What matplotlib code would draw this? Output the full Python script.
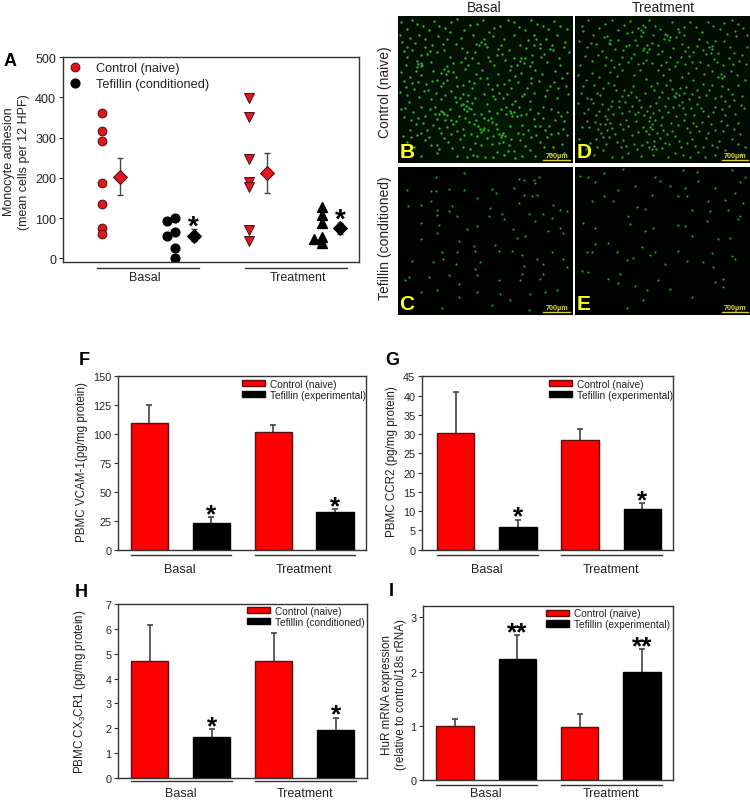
import matplotlib
matplotlib.use("Agg")
import numpy as np
import matplotlib.pyplot as plt
from matplotlib.patches import Patch
from matplotlib.lines import Line2D

plt.rcParams['font.family'] = ['Liberation Sans', 'DejaVu Sans']
plt.rcParams['mathtext.default'] = 'regular'

W, H = 750, 803
DARK = '#333333'
RED = '#ff0000'
PT_RED = '#e8141c'

# ---- panel A values ----
ctrl_basal = [360, 317, 292, 187, 136, 75, 60]
tef_basal = [100, 94, 65, 55, 27, 1]
tef_basal_off = [0, -1, 0, -1, 0, 0]
ctrl_treat = [398, 350, 247, 190, 178, 71, 42]
tef_treat = [128, 107, 87, 52, 47, 38]
tef_treat_off = [0, 0, 0, 0, -1, 0]
a_means = [203, 55, 212, 75]
a_low = [158, 42, 163, 60]
a_high = [248, 72, 262, 88]

# ---- bar panels ----
groups = ['Basal', 'Treatment']
f_vals = [109.5, 23.5, 102, 33]
f_tops = [125.5, 28, 108, 35.5]
g_vals = [30.2, 6, 28.5, 10.5]
g_tops = [40.8, 7.8, 31.2, 12]
h_vals = [4.7, 1.63, 4.72, 1.95]
h_tops = [6.17, 1.98, 5.83, 2.43]
i_vals = [1.0, 2.23, 0.98, 2.0]
i_tops = [1.13, 2.67, 1.21, 2.42]

# ---- micrographs: green level on a coarse grid, plus visible specks ----
haze_b = [[.14, .16, .14, .16, .14, .12, .14],
          [.16, .16, .16, .18, .18, .14, .12],
          [.14, .18, .20, .18, .16, .14, .10],
          [.16, .18, .20, .22, .18, .14, .12],
          [.14, .18, .20, .25, .25, .16, .12],
          [.10, .14, .18, .20, .22, .16, .10]]
haze_d = [[.10, .12, .14, .14, .14, .12, .10],
          [.12, .14, .16, .14, .14, .14, .12],
          [.10, .12, .14, .14, .14, .14, .14],
          [.10, .14, .14, .16, .14, .14, .12],
          [.10, .14, .16, .16, .14, .12, .10],
          [.08, .10, .14, .14, .12, .10, .08]]
haze_c = [[.03] * 7] * 6
haze_e = [[.02] * 7] * 6

specks_b = [(30, 40), (60, 25), (95, 45), (125, 30), (160, 20), (200, 45), (240, 25), (275, 50), (310, 30), (350, 20),
            (385, 45), (420, 25), (455, 40), (490, 30), (15, 80), (45, 105), (70, 120), (75, 150), (105, 90), (140, 105),
            (175, 85), (210, 110), (245, 90), (265, 85), (300, 120), (335, 105), (370, 90), (405, 120), (430, 85), (470, 105),
            (505, 80), (25, 150), (55, 170), (100, 140), (130, 175), (150, 155), (190, 140), (225, 130), (255, 165), (290, 150),
            (325, 135), (360, 150), (385, 130), (415, 165), (450, 140), (490, 150), (510, 175), (20, 200), (50, 225), (85, 210),
            (115, 235), (150, 195), (180, 215), (215, 200), (250, 190), (285, 225), (320, 210), (355, 185), (390, 220), (425, 200),
            (460, 215), (495, 190), (35, 265), (70, 280), (100, 255), (130, 290), (140, 300), (175, 265), (200, 285), (205, 275),
            (235, 250), (270, 270), (295, 255), (330, 240), (365, 280), (400, 260), (440, 280), (480, 250), (510, 295), (20, 310),
            (55, 330), (90, 350), (120, 315), (150, 340), (185, 305), (215, 325), (250, 345), (258, 348), (285, 325), (315, 365),
            (325, 368), (345, 305), (375, 335), (410, 315), (445, 350), (475, 320), (500, 345), (30, 385), (100, 395), (140, 375),
            (165, 405), (200, 365), (235, 390), (270, 375), (300, 415), (335, 395), (370, 380), (400, 410), (430, 385), (470, 400),
            (240, 430), (320, 425), (180, 430), (120, 420), (60, 365), (230, 300), (340, 290), (210, 260), (130, 215), (70, 145),
            (12, 18), (44, 12), (78, 32), (110, 15), (142, 38), (178, 10), (218, 28), (258, 12), (292, 38), (332, 14),
            (366, 36), (402, 12), (438, 32), (472, 16), (510, 42), (8, 58), (38, 68), (66, 58), (84, 72), (122, 62),
            (158, 50), (192, 68), (228, 58), (262, 70), (288, 62), (322, 72), (352, 58), (392, 74), (412, 60), (448, 72),
            (482, 60), (516, 110), (30, 125), (58, 138), (88, 118), (120, 112), (158, 125), (194, 100), (234, 112), (272, 125),
            (316, 118), (350, 128), (388, 100), (442, 118), (486, 128), (12, 172), (38, 188), (72, 182), (108, 168), (118, 196),
            (168, 172), (204, 162), (238, 178), (270, 190), (304, 178), (338, 165), (372, 175), (402, 190), (436, 178), (474, 170),
            (8, 232), (30, 242), (66, 248), (92, 228), (130, 255), (160, 230), (196, 240), (226, 222), (262, 238), (306, 236),
            (342, 222), (374, 246), (412, 235), (446, 246), (484, 222), (515, 240), (10, 285), (48, 295), (84, 305), (112, 280),
            (158, 285), (190, 272), (222, 285), (252, 300), (276, 292), (312, 285), (354, 262), (386, 300), (424, 298), (462, 285),
            (492, 305), (38, 350), (70, 358), (108, 335), (132, 358), (168, 330), (198, 345), (232, 330), (272, 350), (300, 345),
            (340, 338), (362, 358), (392, 350), (428, 338), (462, 362), (512, 365), (15, 415), (50, 402), (82, 380), (118, 395),
            (152, 385), (188, 378), (218, 408), (252, 395), (285, 392), (318, 385), (352, 412), (385, 398), (416, 365), (452, 372),
            (495, 392), (70, 430), (210, 432), (265, 432), (355, 435), (415, 430),
            (63, 147), (71, 155), (58, 158), (136, 293), (148, 304), (126, 301), (198, 271), (214, 281), (209, 291), (262, 342),
            (251, 356), (243, 338), (306, 361), (319, 359), (311, 372), (341, 298), (352, 294), (361, 307), (274, 318), (283, 312),
            (296, 331), (236, 86), (271, 96), (252, 81), (139, 163), (152, 168), (147, 178), (212, 243), (226, 266), (188, 252),
            (172, 248), (289, 245), (318, 252), (344, 270), (327, 279), (369, 137), (381, 146), (372, 128), (417, 71), (428, 99),
            (411, 88), (28, 97), (19, 109), (52, 82), (97, 108), (83, 95), (136, 87), (149, 71), (168, 143), (203, 128),
            (211, 151), (244, 144), (278, 137), (303, 101), (311, 88), (342, 153), (398, 153), (406, 141), (432, 126), (459, 102),
            (467, 88), (503, 97), (27, 218), (43, 207), (62, 203), (79, 231), (103, 198), (138, 206), (143, 243), (176, 188),
            (197, 211), (232, 205), (273, 208), (299, 213), (337, 196), (363, 203), (381, 238), (403, 207), (451, 227), (473, 203),
            (507, 215), (24, 281), (41, 318), (63, 311), (77, 327), (98, 286), (114, 299), (161, 318), (177, 321), (203, 312),
            (238, 318), (262, 312), (301, 298), (327, 301), (371, 302), (399, 286), (413, 337), (437, 314), (458, 337), (484, 293),
            (503, 322), (18, 366), (42, 372), (94, 371), (126, 343), (142, 318), (161, 362), (179, 351), (222, 361), (241, 367),
            (288, 367), (307, 389), (343, 376), (377, 362), (403, 372), (441, 402), (483, 357), (126, 408), (197, 402), (228, 425),
            (287, 431), (333, 413), (376, 428), (462, 421), (502, 418)]
specks_d = [(20, 30), (55, 60), (90, 25), (130, 45), (165, 15), (205, 50), (240, 30), (270, 55), (310, 40), (345, 20),
            (380, 50), (415, 30), (455, 55), (490, 25), (515, 60), (35, 95), (70, 120), (105, 85), (145, 105), (180, 75),
            (215, 110), (250, 90), (285, 125), (320, 85), (355, 110), (395, 80), (430, 115), (465, 95), (500, 120), (15, 150),
            (50, 175), (90, 150), (125, 185), (160, 140), (195, 165), (230, 145), (265, 180), (300, 155), (340, 175), (375, 140),
            (410, 170), (445, 150), (485, 180), (25, 215), (65, 235), (100, 205), (140, 245), (175, 215), (210, 235), (245, 205),
            (280, 250), (315, 220), (350, 240), (385, 210), (420, 250), (460, 225), (500, 245), (40, 285), (80, 270), (115, 300),
            (150, 265), (190, 295), (225, 275), (260, 310), (295, 280), (330, 300), (365, 270), (400, 305), (440, 285), (480, 300),
            (20, 340), (60, 325), (95, 350), (135, 330), (170, 365), (205, 340), (240, 320), (230, 345), (275, 360), (310, 335),
            (345, 355), (380, 325), (420, 350), (455, 335), (495, 360), (45, 390), (85, 410), (125, 385), (160, 420), (200, 395),
            (145, 380), (215, 385), (260, 405), (300, 420), (335, 390), (370, 415), (410, 395), (450, 410), (180, 300), (130, 75),
            (205, 105), (235, 60), (295, 100), (110, 260), (225, 310), (255, 375), (320, 265), (355, 195), (440, 215), (75, 330),
            (38, 14), (72, 38), (110, 12), (148, 28), (188, 38), (222, 12), (255, 40), (292, 18), (328, 60), (362, 36),
            (398, 18), (436, 42), (472, 14), (505, 38), (12, 78), (48, 82), (88, 65), (120, 102), (162, 88), (198, 62),
            (232, 82), (268, 72), (302, 65), (338, 95), (372, 72), (412, 92), (448, 76), (482, 62), (515, 96), (30, 122),
            (52, 138), (82, 108), (108, 135), (142, 125), (178, 118), (212, 135), (248, 118), (272, 142), (318, 125), (352, 142),
            (392, 118), (425, 142), (462, 128), (512, 148), (8, 182), (34, 195), (72, 188), (106, 172), (142, 165), (178, 182),
            (212, 192), (248, 165), (286, 195), (322, 188), (388, 178), (428, 188), (468, 168), (510, 195), (48, 255), (84, 222),
            (122, 228), (158, 242), (192, 258), (228, 215), (262, 232), (298, 245), (332, 218), (372, 248), (402, 228), (438, 245),
            (478, 258), (10, 268), (62, 302), (98, 285), (132, 278), (170, 275), (208, 302), (242, 268), (278, 295), (312, 272),
            (348, 282), (384, 292), (420, 278), (462, 275), (508, 282), (35, 322), (78, 358), (112, 342), (152, 318), (188, 355),
            (222, 362), (258, 335), (292, 352), (328, 318), (362, 338), (398, 358), (438, 322), (478, 345), (12, 378), (62, 378),
            (102, 372), (178, 392), (238, 382), (282, 392), (318, 402), (352, 378), (392, 375), (432, 382), (470, 378), (510, 402),
            (25, 428), (110, 432), (235, 425), (345, 432), (420, 425),
            (97, 63), (106, 74), (101, 82), (203, 27), (211, 36), (198, 43), (207, 98), (216, 91), (221, 103), (277, 58),
            (286, 66), (281, 73), (403, 97), (411, 103), (408, 113), (97, 316), (104, 327), (91, 331), (223, 322), (231, 331),
            (226, 339), (237, 397), (243, 406), (232, 408), (303, 237), (311, 243), (299, 248), (437, 178), (447, 184), (441, 191),
            (157, 53), (172, 49), (312, 51), (327, 33), (448, 22), (479, 47), (24, 47), (64, 85), (153, 92), (187, 91),
            (261, 107), (329, 107), (343, 123), (367, 93), (383, 106), (421, 78), (476, 113), (92, 127), (117, 158), (133, 148),
            (167, 129), (189, 148), (203, 143), (257, 151), (283, 163), (307, 141), (329, 147), (363, 161), (398, 152), (417, 131),
            (473, 147), (493, 138), (19, 237), (37, 252), (58, 213), (76, 243), (117, 213), (132, 262), (147, 227), (169, 233),
            (183, 247), (237, 228), (253, 248), (272, 211), (291, 223), (328, 237), (341, 253), (367, 226), (393, 242), (411, 213),
            (449, 261), (471, 238), (489, 211), (27, 297), (53, 268), (71, 291), (89, 307), (107, 277), (141, 298), (163, 291),
            (199, 278), (217, 291), (233, 298), (251, 287), (271, 277), (303, 307), (323, 283), (357, 302), (377, 283), (413, 293),
            (451, 303), (497, 273), (43, 341), (69, 347), (83, 371), (121, 362), (143, 347), (159, 338), (182, 322), (213, 353),
            (247, 358), (263, 348), (287, 327), (301, 369), (337, 342), (353, 328), (371, 352), (407, 332), (443, 352), (489, 327),
            (33, 407), (67, 401), (93, 392), (137, 402), (152, 397), (187, 408), (223, 402), (269, 389), (311, 383), (361, 397),
            (383, 402), (427, 401), (489, 391), (57, 427), (141, 431), (197, 428), (279, 431), (323, 427), (391, 431), (497, 427)]
specks_c = [(117, 30), (200, 20), (30, 72), (100, 75), (115, 75), (155, 68), (200, 72), (285, 68), (297, 80), (380, 40),
            (365, 38), (410, 40), (425, 30), (415, 50), (350, 65), (380, 85), (405, 88), (420, 85), (32, 120), (100, 105),
            (165, 118), (240, 95), (120, 130), (120, 148), (180, 150), (155, 135), (280, 125), (275, 150), (315, 145), (320, 160),
            (395, 145), (365, 110), (440, 145), (465, 155), (470, 115), (490, 130), (510, 135), (490, 185), (500, 200), (125, 178),
            (118, 200), (70, 170), (348, 188), (385, 210), (360, 215), (455, 195), (415, 165), (240, 180), (210, 190), (185, 225),
            (178, 258), (135, 260), (137, 280), (230, 240), (235, 255), (295, 237), (305, 255), (70, 220), (45, 285), (108, 290),
            (175, 295), (250, 290), (345, 255), (375, 268), (420, 280), (440, 295), (380, 300), (465, 260), (500, 280), (155, 330),
            (35, 335), (22, 345), (95, 335), (185, 355), (235, 310), (240, 330), (305, 345), (375, 325), (370, 345), (430, 340),
            (440, 325), (70, 380), (120, 375), (135, 430), (185, 395), (240, 380), (310, 385), (340, 405), (400, 385), (445, 380),
            (285, 420), (395, 435), (480, 375), (510, 305), (70, 115)]
specks_e = [(88, 20), (15, 28), (40, 30), (145, 8), (240, 30), (255, 42), (325, 10), (365, 15), (368, 42), (420, 65),
            (470, 10), (495, 45), (510, 30), (88, 88), (115, 105), (130, 72), (180, 60), (60, 45), (230, 85), (285, 60),
            (310, 90), (335, 90), (330, 65), (400, 105), (450, 100), (480, 80), (505, 110), (185, 122), (210, 128), (160, 150),
            (50, 105), (350, 130), (405, 135), (460, 130), (490, 160), (25, 170), (60, 185), (165, 175), (235, 185), (210, 195),
            (310, 178), (330, 180), (395, 165), (495, 150), (430, 220), (465, 215), (350, 210), (100, 233), (35, 258), (50, 258),
            (125, 260), (200, 245), (240, 258), (308, 257), (410, 262), (155, 282), (175, 278), (225, 268), (270, 295), (335, 285),
            (385, 290), (20, 315), (135, 325), (40, 320), (128, 352), (215, 375), (285, 370), (420, 350), (445, 365), (100, 340),
            (180, 362), (415, 305), (480, 280), (350, 395), (205, 405), (155, 430), (445, 340), (250, 345), (60, 235), (470, 270)]

fig = plt.figure(figsize=(W / 100, H / 100), dpi=100, facecolor='white')


def make_axes(left, top, right, bottom):
    return fig.add_axes([left / W, 1 - bottom / H, (right - left) / W, (bottom - top) / H])


def px_text(x, y, s, **kw):
    fig.text(x / W, 1 - y / H, s, ha=kw.pop('ha', 'center'), va=kw.pop('va', 'center'), **kw)


def style_axes(ax, tick_size):
    for sp in ax.spines.values():
        sp.set_color(DARK)
        sp.set_linewidth(1.0)
    ax.tick_params(axis='y', labelsize=tick_size, length=3, width=0.8, color=DARK, pad=2, labelcolor='#222222')
    ax.set_xticks([])


def group_rules(ax, spans, centers, rule_y, text_y, size=9):
    # lines and group names under the x axis; y is given in figure pixels
    for (x0, x1), name, cx in zip(spans, groups, centers):
        bb = ax.get_position()
        frac = (1 - rule_y / H - bb.y0) / bb.height
        ax.plot([x0, x1], [frac, frac], color=DARK, lw=1.0, clip_on=False,
                transform=ax.get_xaxis_transform())
        xpx = ax.transData.transform((cx, 0))[0]
        px_text(xpx, text_y, name, fontsize=size, color='#222222')


def bar_panel(box, xleft, vals, tops, ylim, yticks, legend_labels, legend_x, stars, star_size=19):
    ax = make_axes(*box)
    xpos = [1, 2, 3, 4]
    colors = [RED, 'black', RED, 'black']
    edges = ['#5a1010', 'black', '#5a1010', 'black']
    for x, v, t, c, e in zip(xpos, vals, tops, colors, edges):
        ax.vlines(x, v, t, color='#444444', lw=1.2, zorder=1)
        ax.plot(x, t, '_', color='#444444', ms=5, mew=1.2, zorder=1)
        ax.bar(x, v, width=0.6, color=c, edgecolor=e, linewidth=1.0, zorder=2)
    ax.set_xlim(xleft, 4.5)
    ax.set_ylim(*ylim)
    ax.set_yticks(yticks)
    style_axes(ax, 7.8)
    handles = [Patch(facecolor=RED, edgecolor='#5a1010', lw=1), Patch(facecolor='black', edgecolor='black', lw=1)]
    ax.legend(handles, legend_labels, loc='upper left', bbox_to_anchor=legend_x, frameon=False, fontsize=7.3,
              handlelength=2.25, handleheight=0.55, handletextpad=0.5, labelspacing=0.08,
              borderaxespad=0, borderpad=0, labelcolor='#222222')
    for x, t in zip(xpos, tops):
        if t in stars:
            # the asterisk glyph sits high in its line, hence baseline alignment
            ax.annotate(stars[t], (x, t), xytext=(0, -3), textcoords='offset points', ha='center', va='baseline',
                        fontsize=star_size, color='black', fontweight='bold')
    return ax


# ---- panel A ----
ax = make_axes(63, 58, 358.7, 263)
ax.plot([1] * len(ctrl_basal), ctrl_basal, 'o', ms=6.3, mfc=PT_RED, mec='#401010', mew=0.7)
ax.plot([2 + d * 0.11 for d in tef_basal_off], tef_basal, 'o', ms=6.3, mfc='black', mec='black')
ax.plot([3] * len(ctrl_treat), ctrl_treat, 'v', ms=6.5, mfc=PT_RED, mec='#401010', mew=0.7)
ax.plot([4 + d * 0.11 for d in tef_treat_off], tef_treat, '^', ms=6.5, mfc='black', mec='black')
for x, m, lo, hi, c in zip([1.25, 2.25, 3.25, 4.25], a_means, a_low, a_high, [PT_RED, 'black', PT_RED, 'black']):
    ax.errorbar(x, m, yerr=[[m - lo], [hi - m]], color='#444444', capsize=2.2, elinewidth=1.0, capthick=1.0, zorder=2)
    ax.plot(x, m, 'D', ms=7, mfc=c, mec='#301010' if c != 'black' else 'black', mew=0.7, zorder=3)
ax.set_xlim(0.47, 4.5)
ax.set_ylim(-9, 500)
ax.set_yticks([0, 100, 200, 300, 400, 500])
style_axes(ax, 9)
a_handles = [Line2D([], [], ls='', marker='o', ms=6.3, mfc=PT_RED, mec='#401010', mew=0.7),
             Line2D([], [], ls='', marker='o', ms=6.3, mfc='black', mec='black')]
ax.legend(a_handles, ['Control (naive)', 'Tefillin (conditioned)'], loc='upper left', bbox_to_anchor=(0.009, 0.975),
          frameon=False, fontsize=9.2, handletextpad=0.9, labelspacing=0.33, borderaxespad=0, borderpad=0,
          handlelength=1.5, labelcolor='#222222')
ax.annotate('*', (2.25, 72), xytext=(0, -3), textcoords='offset points', ha='center', fontsize=20, fontweight='bold')
ax.annotate('*', (4.25, 88), xytext=(0, -3), textcoords='offset points', ha='center', fontsize=20, fontweight='bold')
group_rules(ax, [(0.94, 2.33), (2.955, 4.346)], [1.59, 3.67], 268.7, 278)
px_text(9, 162, 'Monocyte adhesion', rotation=90, fontsize=9, color='#222222')
px_text(24, 162, '(mean cells per 12 HPF)', rotation=90, fontsize=9, color='#222222')
px_text(10, 62, 'A', fontsize=13, fontweight='bold')

# ---- micrographs ----
cmap = matplotlib.colors.LinearSegmentedColormap.from_list('gr', ['black', '#0e6a12'])


def micro(box, haze, specks, letter, level, size):
    ax = make_axes(*box)
    ax.imshow(haze, cmap=cmap, vmin=0, vmax=1, extent=(0, 525, 450, 0), aspect='auto', interpolation='bilinear')
    xs, ys = zip(*specks)
    ax.scatter(xs, ys, s=size, c=level, linewidths=0, marker='o')
    ax.set_xlim(0, 525)
    ax.set_ylim(450, 0)
    ax.axis('off')
    ax.text(5, 415, letter, color='#ffff20', fontsize=15, fontweight='bold', va='center', ha='left')
    ax.plot([440, 520], [441, 441], color='#e0d020', lw=1.0)
    ax.text(480, 428, '700\u00b5m', color='#d8d040', fontsize=5.2, fontweight='bold', ha='center', va='center')


micro((397.5, 16.7, 571.7, 164), haze_b, specks_b, 'B', '#2fb02f', 3.0)
micro((575, 16.7, 750, 164), haze_d, specks_d, 'D', '#2da52d', 2.8)
micro((397.5, 167.7, 571.7, 316), haze_c, specks_c, 'C', '#239f23', 2.5)
micro((575, 167.7, 750, 316), haze_e, specks_e, 'E', '#239f23', 2.5)
px_text(484, 8, 'Basal', fontsize=10, color='#222222')
px_text(663, 8, 'Treatment', fontsize=10, color='#222222')
px_text(385, 92, 'Control (naive)', rotation=90, fontsize=10, color='#222222')
px_text(385, 238, 'Tefillin (conditioned)', rotation=90, fontsize=10, color='#222222')

# ---- panels F G H I ----
exp_labels = ['Control (naive)', 'Tefillin (experimental)']
cond_labels = ['Control (naive)', 'Tefillin (conditioned)']
spans = [(0.7, 2.32), (2.7, 4.32)]
centers = [1.5, 3.5]

ax = bar_panel((118.3, 377.3, 366, 550.7), 0.5, f_vals, f_tops, (0, 150), range(0, 151, 25), exp_labels,
               (0.5, 0.985), {28: '*', 35.5: '*'})
group_rules(ax, spans, centers, 556, 570)
px_text(82, 462.5, 'PBMC VCAM-1(pg/mg protein)', rotation=90, fontsize=8.4, color='#222222')
px_text(84, 361, 'F', fontsize=13, fontweight='bold')

ax = bar_panel((422.3, 377.3, 673.3, 550.7), 0.46, g_vals, g_tops, (0, 45), range(0, 46, 5), exp_labels,
               (0.505, 0.985), {7.8: '*', 12: '*'})
group_rules(ax, spans, centers, 555.5, 570)
px_text(392, 462, 'PBMC CCR2 (pg/mg protein)', rotation=90, fontsize=8.4, color='#222222')
px_text(392, 361, 'G', fontsize=13, fontweight='bold')

ax = bar_panel((118.3, 605, 366.7, 779), 0.49, h_vals, h_tops, (0, 7), range(0, 8), cond_labels,
               (0.517, 0.99), {1.98: '*', 2.43: '*'})
group_rules(ax, spans, centers, 782, 794)
px_text(80, 692, r'PBMC CX$_3$CR1 (pg/mg protein)', rotation=90, fontsize=8.4, color='#222222')
px_text(81, 593, 'H', fontsize=13, fontweight='bold')

ax = bar_panel((423.3, 606.7, 673.3, 781.3), 0.49, i_vals, i_tops, (0, 3.21), [0, 1, 2, 3], exp_labels,
               (0.49, 0.985), {2.67: '**', 2.42: '**'})
group_rules(ax, spans, centers, 785.5, 794)
px_text(387, 695, 'HuR mRNA expression', rotation=90, fontsize=8.4, color='#222222')
px_text(401, 695, '(relative to control/18s rRNA)', rotation=90, fontsize=8.4, color='#222222')
px_text(391, 592, 'I', fontsize=13, fontweight='bold')

fig.savefig('out.png', dpi=100, facecolor='white')
